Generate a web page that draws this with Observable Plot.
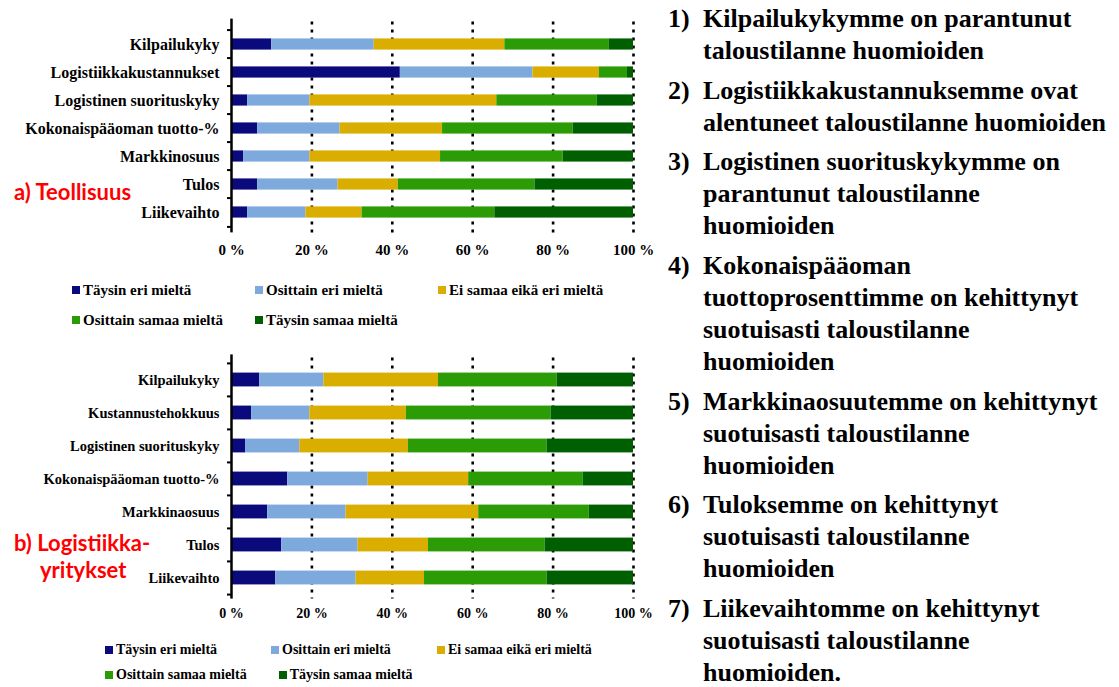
<!DOCTYPE html>
<html><head><meta charset="utf-8">
<script src="https://cdn.jsdelivr.net/npm/d3@7"></script>
<script src="https://cdn.jsdelivr.net/npm/@observablehq/plot@0.6"></script>
<style>
html,body{margin:0;padding:0;background:#fff;}
body{width:1119px;height:687px;position:relative;overflow:hidden;font-family:"Liberation Serif",Tinos,"Times New Roman",Times,"DejaVu Serif",serif;color:#000;}
.abs{position:absolute;}
.legend{position:absolute;font-weight:bold;white-space:nowrap;}
.legend .row{display:flex;align-items:center;}
.legend .item{display:flex;align-items:center;box-sizing:border-box;padding-right:32px;}
.legend .sw{width:8px;height:8px;margin-right:3px;flex:none;}
.red{position:absolute;color:#ff0000;font-family:Lato,"Noto Sans",sans-serif;font-weight:bold;font-size:22px;line-height:27px;white-space:nowrap;}
#notes{position:absolute;left:668px;top:3px;font-weight:bold;font-size:26px;line-height:32px;}
#notes .it{position:relative;padding-left:35px;margin-bottom:7.7px;}
#notes .it .n{position:absolute;left:0;top:0;}
#notes .ln{white-space:nowrap;}
#notes .it:last-child .ln:last-child{line-height:26px;margin-top:3px;}
</style></head><body>
<div id="chartA" class="abs" style="left:0;top:0"></div>
<div id="legA" class="legend" style="left:72px;top:275px;font-size:15px"></div>
<div id="chartB" class="abs" style="left:0;top:335px"></div>
<div id="legB" class="legend" style="left:105px;top:637px;font-size:14px"></div>
<div class="red" style="left:14px;top:178px">a) Teollisuus</div>
<div class="red" style="left:14px;top:529px">b) Logistiikka-</div>
<div class="red" style="left:40px;top:556px">yritykset</div>
<div id="notes"></div>
<script>
// ---- data ----
const responses = ["Täysin eri mieltä","Osittain eri mieltä","Ei samaa eikä eri mieltä","Osittain samaa mieltä","Täysin samaa mieltä"];
const colors = ["#0b0a7c","#7ea9dd","#d9ae00","#2b9c06","#005f00"];
const tickValues = [0,20,40,60,80,100];

// a) Teollisuus
const catsA = ["Kilpailukyky","Logistiikkakustannukset","Logistinen suorituskyky","Kokonaispääoman tuotto-%","Markkinosuus","Tulos","Liikevaihto"];
const taysinEriA   = [10, 42,   4,    6.5,  3,    6.5,  4];
const osittainEriA = [25.5, 33, 15.5, 20.5, 16.5, 20,   14.5];
const eiSamaaA     = [32.5, 16.5, 46.5, 25.5, 32.5, 15, 14];
const osittainSamA = [26, 7,    25,   32.5, 30.5, 34,   33];
const taysinSamA   = [6, 1.5,   9,    15,   17.5, 24.5, 34.5];

// b) Logistiikkayritykset
const catsB = ["Kilpailukyky","Kustannustehokkuus","Logistinen suorituskyky","Kokonaispääoman tuotto-%","Markkinaosuus","Tulos","Liikevaihto"];
const taysinEriB   = [7,    5,    3.5,  14,   9,    12.5, 11];
const osittainEriB = [16,   14.5, 13.5, 20,   19.5, 19,   20];
const eiSamaaB     = [28.5, 24,   27,   25,   33,   17.5, 17];
const osittainSamB = [29.5, 36,   34.5, 28.5, 27.5, 29,   30.5];
const taysinSamB   = [19,   20.5, 21.5, 12.5, 11,   22,   21.5];

const notes = [
  ["Kilpailukykymme on parantunut","taloustilanne huomioiden"],
  ["Logistiikkakustannuksemme ovat","alentuneet taloustilanne huomioiden"],
  ["Logistinen suorituskykymme on","parantunut taloustilanne","huomioiden"],
  ["Kokonaispääoman","tuottoprosenttimme on kehittynyt","suotuisasti taloustilanne","huomioiden"],
  ["Markkinaosuutemme on kehittynyt","suotuisasti taloustilanne","huomioiden"],
  ["Tuloksemme on kehittynyt","suotuisasti taloustilanne","huomioiden"],
  ["Liikevaihtomme on kehittynyt","suotuisasti taloustilanne","huomioiden."]
];

const serif = '"Liberation Serif",Tinos,"Times New Roman",Times,"DejaVu Serif",serif';

function rowsOf(cats, series){
  const rows = [];
  cats.forEach((c,i)=> series.forEach((s,j)=> rows.push({cat:c, resp:responses[j], value:s[i]})));
  return rows;
}

function makeChart(cats, series, o){
  const rows = rowsOf(cats, series);
  const plotH = o.bottom - o.top;
  const step = plotH / cats.length;
  const inset = (step - o.barH)/2;
  return Plot.plot({
    width: 660,
    height: o.height,
    marginLeft: 231,
    marginRight: 27,
    marginTop: o.top,
    marginBottom: o.height - o.bottom,
    style: {fontFamily: serif, fontWeight:"bold", color:"#000", background:"transparent"},
    x: {domain:[0,100]},
    y: {domain: cats, padding: 0},
    color: {domain: responses, range: colors},
    marks: [
      Plot.ruleX(tickValues.slice(1), {stroke:"#000", strokeWidth:2.6, strokeDasharray:"3,5", insetTop:-5, insetBottom:-4}),
      Plot.barX(rows, Plot.stackX({x:"value", y:"cat", fill:"resp", insetTop:inset, insetBottom:inset})),
      Plot.ruleX([0], {stroke:"#000", strokeWidth:2.5, insetTop:-8, insetBottom:-4}),
      Plot.ruleY(cats, {y:d=>d, x1:-1, x2:0, dy:-step/2, stroke:"#000", strokeWidth:2}),
      Plot.ruleY(cats.slice(-1), {y:d=>d, x1:-1, x2:0, dy:step/2, stroke:"#000", strokeWidth:2}),
      Plot.axisX({ticks: tickValues, tickFormat: d => d + " %", tickSize:0, tickPadding:o.tickPad, fontSize:o.tickFont, fontFamily: serif, label:null}),
      Plot.axisY({tickSize:0, tickPadding:12, fontSize:o.labelFont, fontFamily: serif, label:null})
    ]
  });
}

document.getElementById("chartA").append(makeChart(catsA,
  [taysinEriA, osittainEriA, eiSamaaA, osittainSamA, taysinSamA],
  {height:262, top:26.6, bottom:228.4, barH:12, tickPad:15, tickFont:15, labelFont:16}));
document.getElementById("chartB").append(makeChart(catsB,
  [taysinEriB, osittainEriB, eiSamaaB, osittainSamB, taysinSamB],
  {height:295, top:27.4, bottom:259.6, barH:14, tickPad:13, tickFont:14, labelFont:14.5}));

function makeLegend(el, colW, rowH){
  const rowsIdx = [[0,1,2],[3,4]];
  rowsIdx.forEach(r=>{
    const row = document.createElement("div");
    row.className = "row";
    row.style.height = rowH + "px";
    r.forEach(j=>{
      const it = document.createElement("div");
      it.className = "item";
      it.style.minWidth = colW + "px";
      const sw = document.createElement("span");
      sw.className = "sw"; sw.style.background = colors[j];
      const tx = document.createElement("span");
      tx.textContent = responses[j];
      it.append(sw, tx);
      row.append(it);
    });
    el.append(row);
  });
}
makeLegend(document.getElementById("legA"), 183, 30);
makeLegend(document.getElementById("legB"), 166, 25);

const notesEl = document.getElementById("notes");
notes.forEach((lines,i)=>{
  const it = document.createElement("div");
  it.className = "it";
  const n = document.createElement("span");
  n.className = "n"; n.textContent = (i+1) + ")";
  it.append(n);
  lines.forEach(l=>{ const d=document.createElement("div"); d.className="ln"; d.textContent=l; it.append(d); });
  notesEl.append(it);
});
</script>
</body></html>
